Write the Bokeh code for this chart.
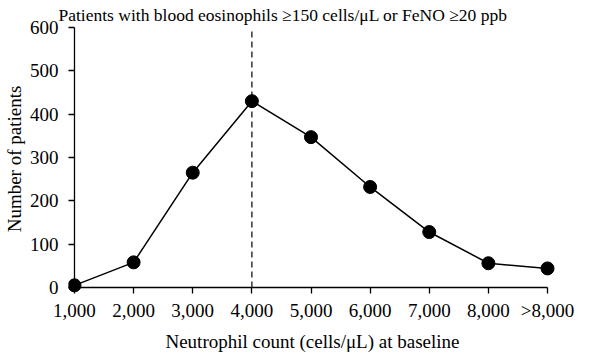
from bokeh.plotting import figure
from bokeh.models import Range1d, FixedTicker, Title
from bokeh.embed import file_html
from bokeh.resources import INLINE

categories = ["1,000", "2,000", "3,000", "4,000", "5,000", "6,000", "7,000", "8,000", ">8,000"]
patients = [5, 58, 265, 430, 347, 232, 128, 56, 44]
y_ticks = [0, 100, 200, 300, 400, 500, 600]
cutoff_category = "4,000"
title = "Patients with blood eosinophils \u2265150 cells/\u03bcL or FeNO \u226520 ppb"

FONT = "Liberation Serif"
x = list(range(len(categories)))
n = len(categories) - 1
y0, y1 = y_ticks[0], y_ticks[-1]

p = figure(width=600, height=354, output_backend="svg", toolbar_location=None,
           x_range=Range1d(-0.1013, n + 0.152), y_range=Range1d(-13.85, 606.9),
           min_border_left=67, min_border_right=44, min_border_top=24, min_border_bottom=61)
p.outline_line_color = None
p.grid.grid_line_color = None
p.background_fill_color = "white"
p.border_fill_color = "white"

p.xaxis.ticker = FixedTicker(ticks=x)
p.xaxis.major_label_overrides = {i: c for i, c in enumerate(categories)}
p.yaxis.ticker = FixedTicker(ticks=y_ticks)
for ax in (p.xaxis, p.yaxis):
    ax.major_tick_in = 6
    ax.major_tick_out = 0
    ax.minor_tick_line_color = None
    ax.axis_line_color = None
    ax.major_tick_line_color = "black"
    ax.major_tick_line_width = 1.3
    ax.major_label_text_font = FONT
    ax.major_label_text_font_size = "19px"
    ax.major_label_text_color = "black"
    ax.axis_label_text_font = FONT
    ax.axis_label_text_font_size = "19px"
    ax.axis_label_text_font_style = "normal"
    ax.axis_label_text_color = "black"
p.xaxis.axis_label = "Neutrophil count (cells/\u03bcL) at baseline"
p.yaxis.axis_label = "Number of patients"
p.xaxis.major_label_standoff = 6
p.yaxis.major_label_standoff = 10
p.xaxis.axis_label_standoff = 7
p.yaxis.axis_label_standoff = 2

# axis lines along the data's zero lines
p.segment(x0=[x[0], x[0]], y0=[y0, y0], x1=[x[-1], x[0]], y1=[y0, y1],
          line_color="black", line_width=1.3)
# cutoff line
c = categories.index(cutoff_category)
p.segment(x0=[c], y0=[y0], x1=[c], y1=[y1], line_color="#333333",
          line_width=1.5, line_dash="6 4")

p.line(x, patients, line_color="black", line_width=1.5)
p.scatter(x, patients, size=13, fill_color="black", line_color="black")

p.add_layout(Title(text=title, text_font=FONT, text_font_size="17.5px",
                   text_font_style="normal", text_color="black",
                   align="left", offset=-10, standoff=0), "above")

open("out.html", "w").write(file_html(p, INLINE))
